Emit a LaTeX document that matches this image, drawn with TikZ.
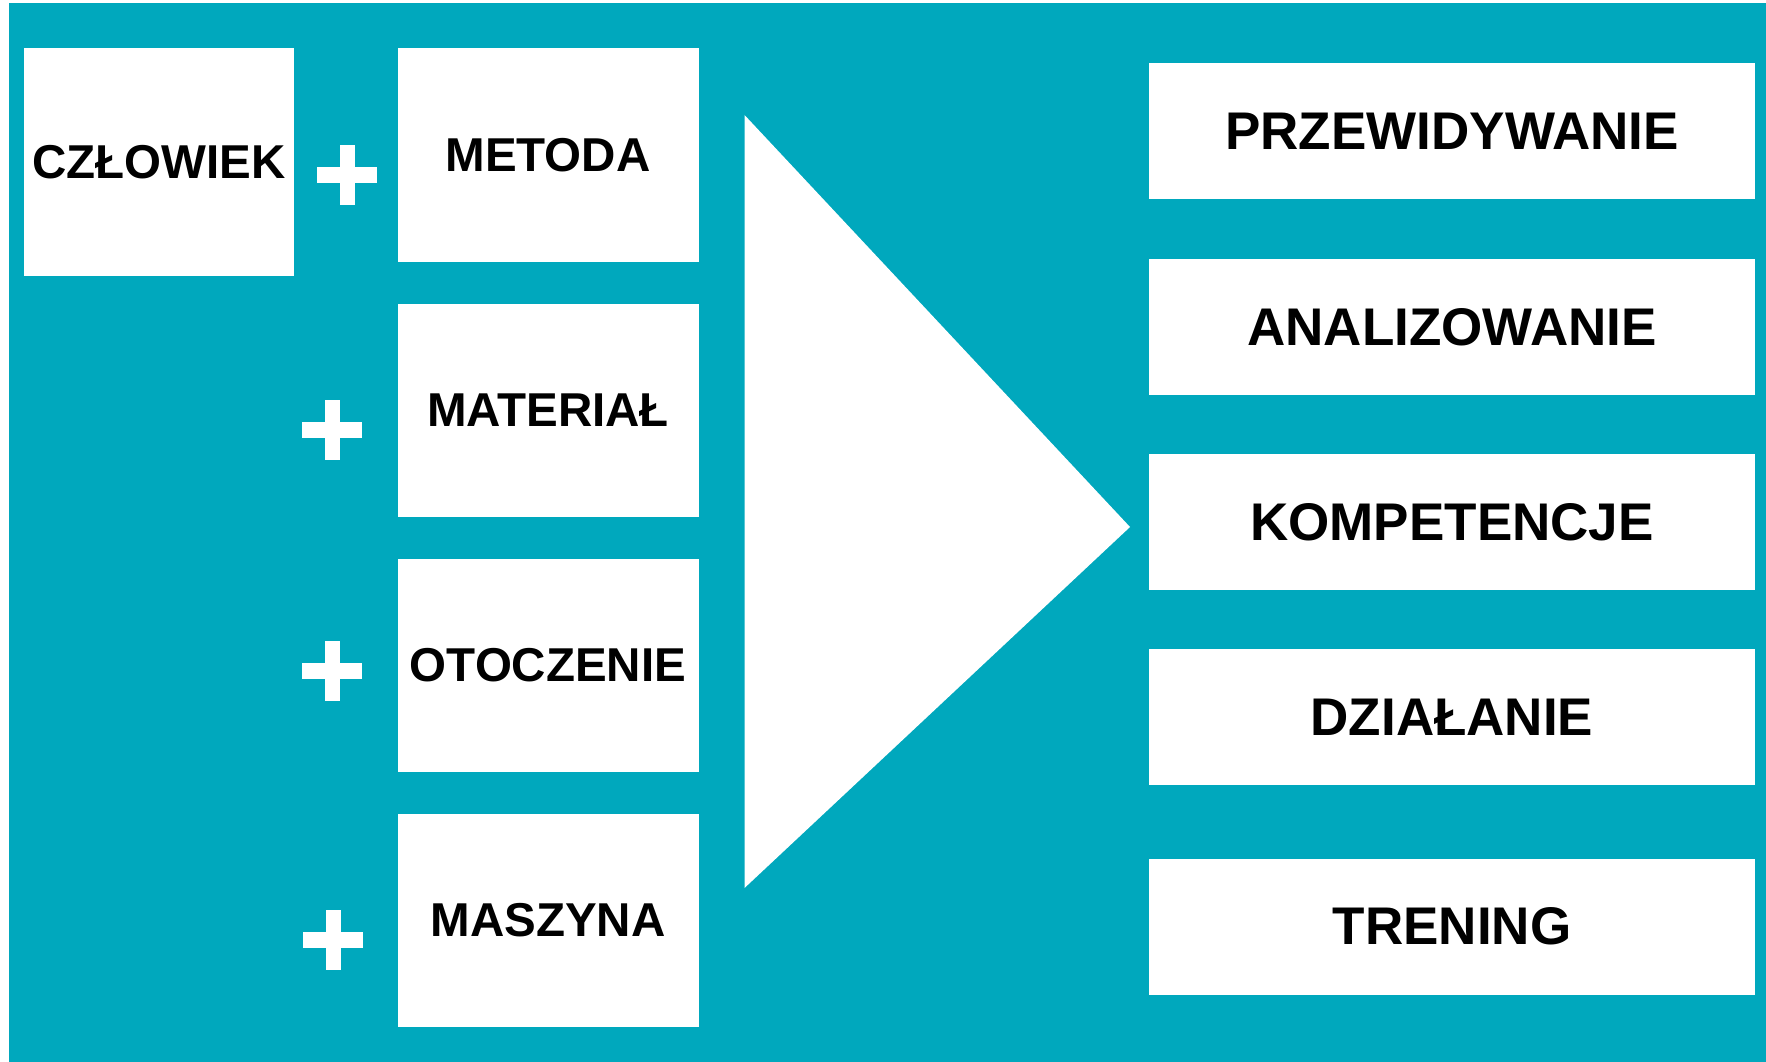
\documentclass[tikz,border=0pt]{standalone}
\usepackage{fontspec}
\setmainfont{Liberation Sans}
\usetikzlibrary{calc}
\definecolor{teal1}{RGB}{0,168,189}
\begin{document}
\begin{tikzpicture}[x=1pt,y=-1pt,
  wbox/.style={fill=white,draw=none,inner sep=0pt,font=\bfseries},
  lbox/.style={wbox,minimum width=301pt,minimum height=213pt,font=\fontsize{47.5}{50}\selectfont\bfseries},
  rbox/.style={wbox,minimum width=606pt,minimum height=136pt,font=\fontsize{53}{56}\selectfont\bfseries},
  plus/.style={fill=white}]
\useasboundingbox (0,0) rectangle (1766,1062);
\fill[white] (0,0) rectangle (1766,1062);
\fill[teal1] (9,3) rectangle (1766,1062);
% left boxes
\node[lbox,minimum width=270pt,minimum height=228pt] (czl) at (159,162) {CZŁOWIEK};
\node[lbox] (met) at (548,155) {METODA};
\node[lbox] (mat) at (548,410.5) {MATERIAŁ};
\node[lbox] (oto) at (548,665) {OTOCZENIE};
\node[lbox] (mas) at (548,920) {MASZYNA};
% plus signs
\foreach \n/\cx/\cy in {p1/347/175, p2/332/430, p3/332/671, p4/333/940}{
  \coordinate (\n) at (\cx,\cy);
  \fill[plus] ($(\n)+(-30,-8)$) rectangle ($(\n)+(30,8)$);
  \fill[plus] ($(\n)+(-7.5,-30)$) rectangle ($(\n)+(7.5,30)$);
}
% triangle
\coordinate (t1) at (744.5,115);
\coordinate (t2) at (1130,527);
\coordinate (t3) at (744.5,888);
\fill[white] (t1) -- (t2) -- (t3) -- cycle;
% right boxes
\node[rbox] (prz) at (1452,131) {PRZEWIDYWANIE};
\node[rbox] (ana) at (1452,327) {ANALIZOWANIE};
\node[rbox] (kom) at (1452,522) {KOMPETENCJE};
\node[rbox] (dzi) at (1452,717) {DZIAŁANIE};
\node[rbox] (tre) at (1452,926.5) {TRENING};
\end{tikzpicture}
\end{document}
